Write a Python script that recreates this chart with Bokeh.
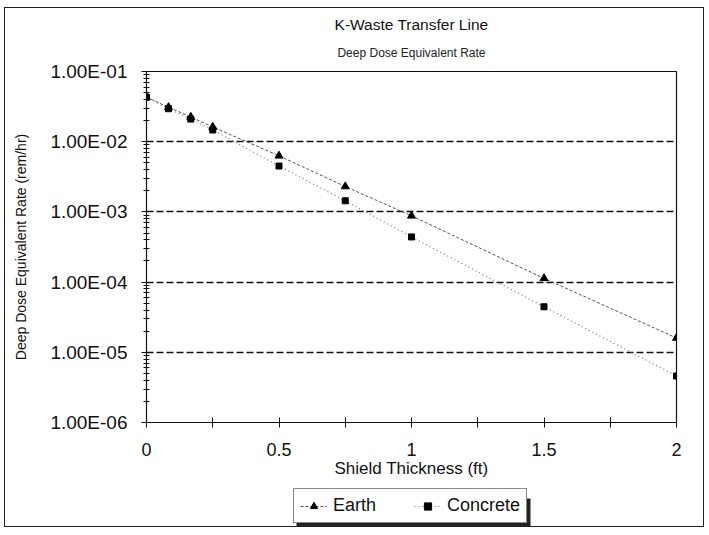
from bokeh.plotting import figure
from bokeh.layouts import column
from bokeh.models import (FixedTicker, CustomJSTickFormatter, Legend, LegendItem,
                          Title, LogTicker, Range1d, BoxAnnotation)
from bokeh.embed import file_html
from bokeh.resources import INLINE

thickness = [0, 0.083, 0.167, 0.25, 0.5, 0.75, 1.0, 1.5, 2.0]
earth = [4.3e-2, 3.1e-2, 2.25e-2, 1.62e-2, 6.3e-3, 2.3e-3, 8.8e-4, 1.13e-4, 1.6e-5]
concrete = [4.3e-2, 2.95e-2, 2.1e-2, 1.47e-2, 4.5e-3, 1.44e-3, 4.4e-4, 4.45e-5, 4.6e-6]
x_ticks = [0, 0.5, 1, 1.5, 2]
x_minor = [0.25, 0.75, 1.25, 1.75]
x_labels = ["0", "0.5", "1", "1.5", "2"]

FONT = "Liberation Sans"
EARTH_STYLE = dict(line_color="#555", line_dash="3 2", line_width=1)
CONC_STYLE = dict(line_color="#777", line_dash="1 3", line_width=1.2)
TRI = dict(marker="triangle", size=8, fill_color="black", line_color="black")
SQR = dict(marker="square", size=6, fill_color="black", line_color="black")

p = figure(width=698, height=472, y_axis_type="log", x_range=(0, 2), y_range=(1e-6, 1e-1),
           output_backend="svg", toolbar_location=None,
           min_border_left=141, min_border_right=27, min_border_top=63, min_border_bottom=53)
p.background_fill_color = "white"
p.border_fill_color = "white"
p.outline_line_color = "#111"
p.outline_line_width = 1.2

p.title = Title(text="K-Waste Transfer Line", align="center", text_font=FONT,
                text_font_size="15.5px", text_font_style="normal", text_color="#111",
                standoff=0)
p.add_layout(Title(text="Deep Dose Equivalent Rate", align="center", text_font=FONT,
                   text_font_size="12px", text_font_style="normal", text_color="#222",
                   standoff=23), "above")

# x axis
xa = p.xaxis[0]
xa.ticker = FixedTicker(ticks=x_ticks, minor_ticks=x_minor)
xa.major_label_overrides = {t: l for t, l in zip(x_ticks, x_labels)}
xa.axis_label = "Shield Thickness (ft)"
xa.axis_label_text_font = FONT
xa.axis_label_text_font_size = "17px"
xa.axis_label_text_font_style = "normal"
xa.axis_label_standoff = 0
xa.major_label_text_font = FONT
xa.major_label_text_font_size = "18px"
xa.major_label_standoff = 15
xa.major_tick_in = 5
xa.major_tick_out = 5
xa.minor_tick_in = 5
xa.minor_tick_out = 5

ya = p.yaxis[0]
ya.ticker = LogTicker(num_minor_ticks=10)
ya.formatter = CustomJSTickFormatter(code="""
const e = Math.round(Math.log10(tick));
const a = Math.abs(e);
return "1.00E" + (e < 0 ? "-" : "+") + (a < 10 ? "0" : "") + a;
""")
ya.axis_label = "Deep Dose Equivalent Rate (rem/hr)"
ya.axis_label_text_font = FONT
ya.axis_label_text_font_size = "14px"
ya.axis_label_text_font_style = "normal"
ya.axis_label_standoff = 18
ya.major_label_text_font = FONT
ya.major_label_text_font_size = "19px"
ya.major_label_standoff = 14
ya.major_tick_in = 5
ya.major_tick_out = 5
ya.minor_tick_in = 3
ya.minor_tick_out = 3

for ax in [xa, ya]:
    ax.axis_line_color = "#111"
    ax.major_tick_line_color = "#111"
    ax.minor_tick_line_color = "#111"
    ax.major_label_text_color = "#111"
    ax.axis_label_text_color = "#111"

p.xgrid.visible = False
p.ygrid.grid_line_color = "#111"
p.ygrid.grid_line_dash = "7 3"
p.ygrid.grid_line_width = 1.3

p.line(thickness, earth, **EARTH_STYLE)
p.scatter(thickness, earth, **TRI)
p.line(thickness, concrete, **CONC_STYLE)
p.scatter(thickness, concrete, **SQR)

# legend strip below the chart (ranges in pixel-like units of its frame)
q = figure(width=698, height=46, output_backend="svg", toolbar_location=None,
           x_range=Range1d(0, 530), y_range=Range1d(0, 46),
           min_border_left=0, min_border_right=0, min_border_top=0, min_border_bottom=0)
q.axis.visible = False
q.grid.visible = False
q.outline_line_color = None
q.background_fill_color = "white"
q.border_fill_color = "white"
r1 = q.line(thickness, earth, visible=False, **EARTH_STYLE)
s1 = q.scatter(thickness, earth, visible=False, **TRI)
r2 = q.line(thickness, concrete, visible=False, **CONC_STYLE)
s2 = q.scatter(thickness, concrete, visible=False, **SQR)

q.add_layout(BoxAnnotation(left=150, right=384, bottom=0, top=28,
                           fill_color="#222", fill_alpha=1, line_color=None))

legend = Legend(items=[LegendItem(label="Earth", renderers=[r1, s1]),
                       LegendItem(label="Concrete", renderers=[r2, s2])],
                orientation="horizontal", location=(147, 3),
                label_text_font=FONT, label_text_font_size="18px",
                label_text_color="#111", label_height=18, glyph_height=18,
                border_line_color="#111", border_line_width=1.5,
                background_fill_color="white", background_fill_alpha=1,
                glyph_width=27, spacing=38, padding=6, margin=0,
                label_standoff=6)
q.add_layout(legend, "center")

layout = column(p, q, spacing=0)
layout.styles = {"border": "1px solid #222", "margin-left": "4px", "margin-top": "7px"}

open("out.html", "w").write(file_html(layout, INLINE))
